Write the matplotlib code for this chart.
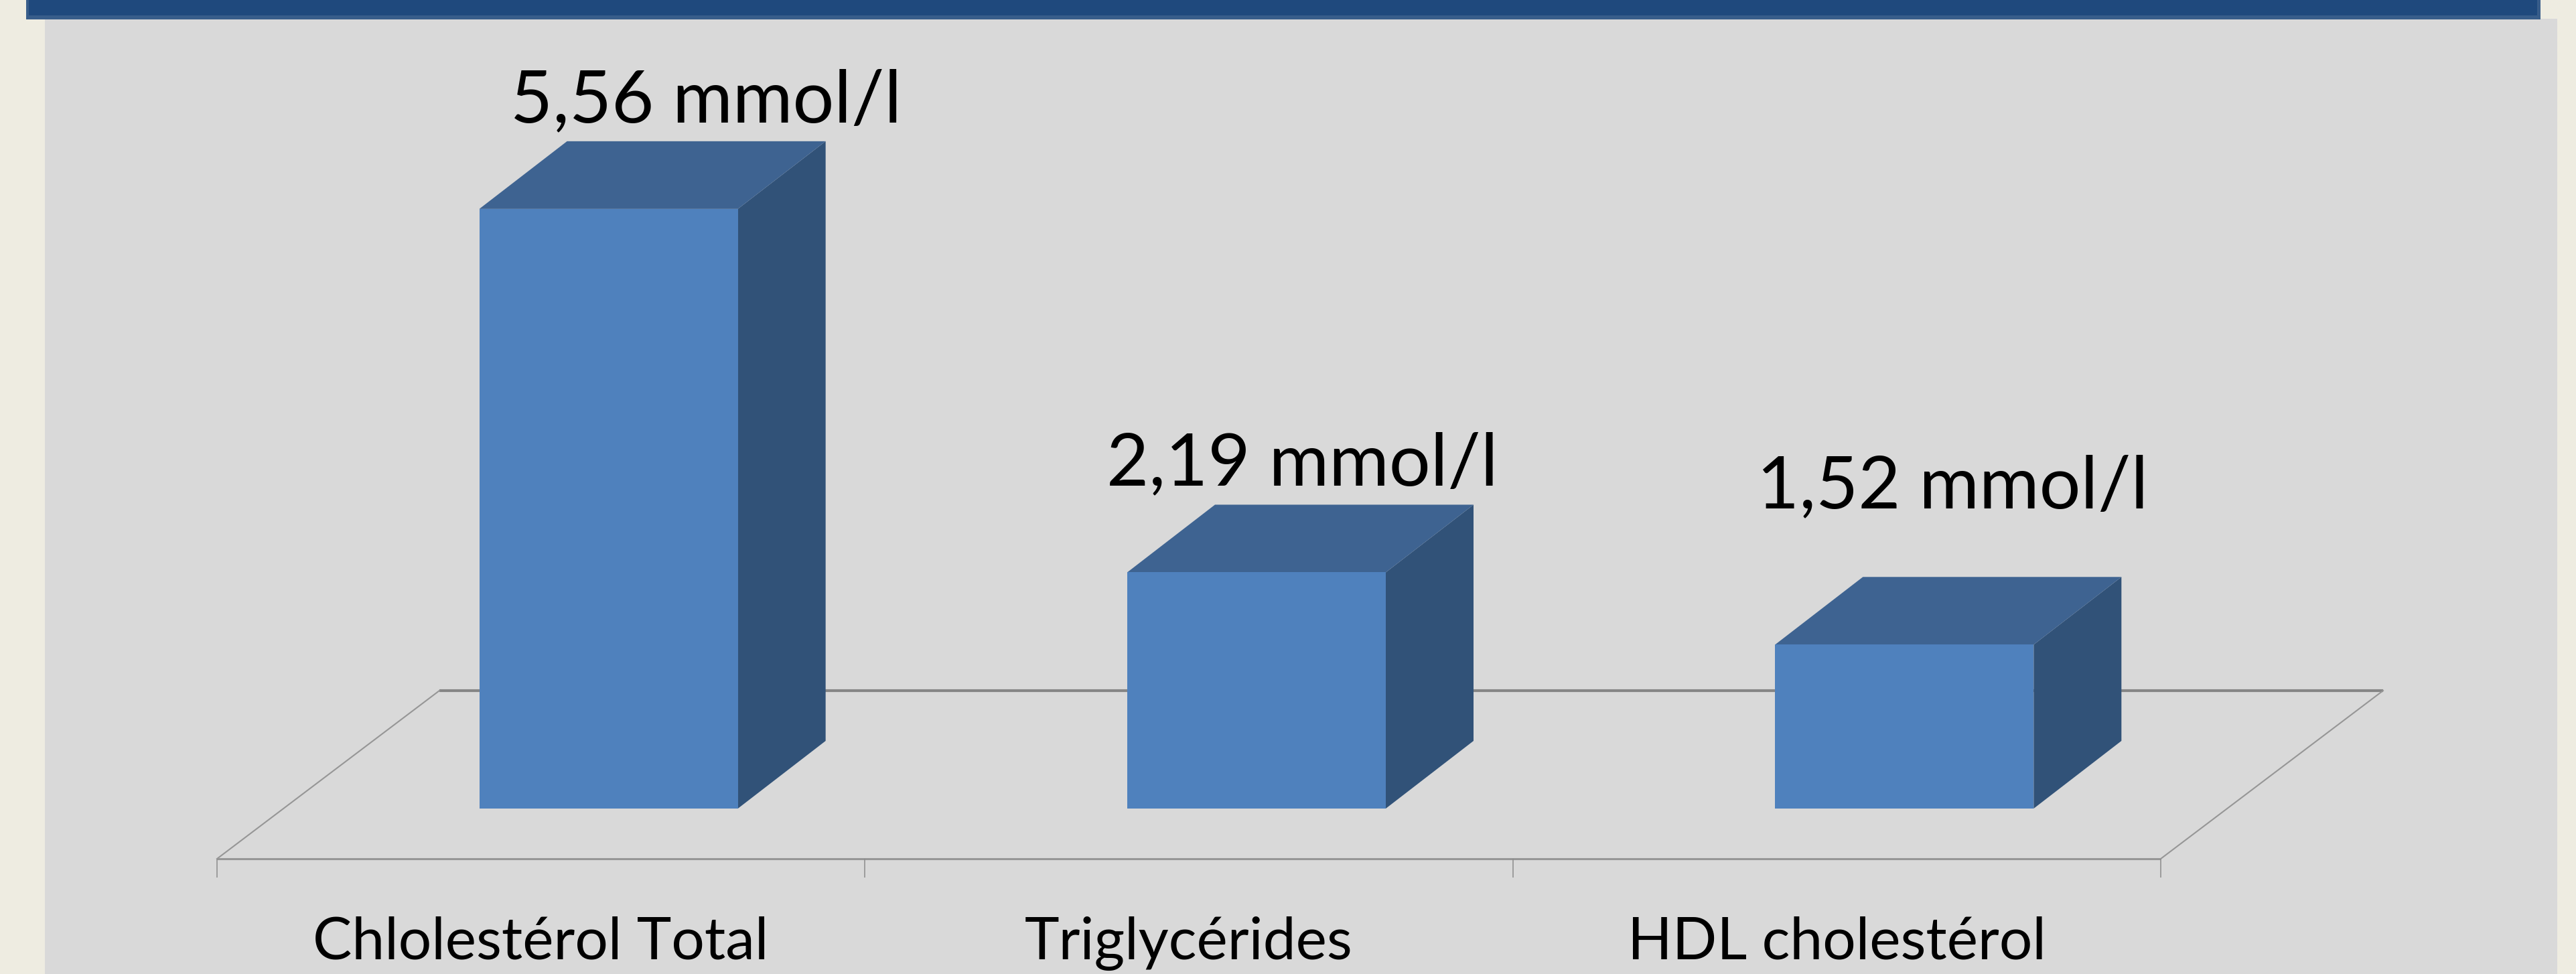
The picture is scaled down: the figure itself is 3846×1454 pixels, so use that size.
import matplotlib
matplotlib.use('Agg')
import matplotlib.pyplot as plt
from matplotlib.patches import Rectangle

categories = ['Chlolestérol Total', 'Triglycérides', 'HDL cholestérol']
values = [5.56, 2.19, 1.52]
value_labels = ['5,56 mmol/l', '2,19 mmol/l', '1,52 mmol/l']

W, H = 3846, 1454
PX_X = 967.33   # pixels for one category
PX_Y = 161.0    # pixels for 1 mmol/l
LEFT = 324      # floor front left corner
BASE = 1207     # bar base

plt.rcParams['font.family'] = ['Lato', 'DejaVu Sans']

fig = plt.figure(figsize=(W / 100, H / 100), dpi=100, facecolor='#EEECE1')


def px_rect(x0, y0, x1, y1, color):
    fig.patches.append(Rectangle((x0 / W, 1 - y1 / H), (x1 - x0) / W, (y1 - y0) / H,
                                 transform=fig.transFigure, facecolor=color,
                                 edgecolor='none', figure=fig, zorder=-1))


# slide background and title band
px_rect(67, 28, 3818, H, '#D9D9D9')
px_rect(39, 0, 3793, 29, '#385D8A')
px_rect(43, 0, 3788, 23, '#1F497D')

ax = fig.add_axes([0, 0, 1, 1])
ax.set_xlim(-LEFT / PX_X, (W - LEFT) / PX_X)
ax.set_ylim((BASE - H) / PX_Y, BASE / PX_Y)
ax.axis('off')

# 3d depth of the bars and the floor
dx = 131 / PX_X
dy = 101 / PX_Y
width = 386 / PX_X
shift = 101 / PX_X
n = len(categories)
floor_front = -75 / PX_Y
floor_back = 176 / PX_Y
floor_dx = 332 / PX_X
tick_bottom = -103 / PX_Y

ax.plot([floor_dx, n + floor_dx], [floor_back, floor_back], color='#868686', lw=3, zorder=1,
        solid_capstyle='butt')
ax.plot([0, n], [floor_front, floor_front], color='#969696', lw=2.2, zorder=1,
        solid_capstyle='butt')
ax.plot([0, floor_dx], [floor_front, floor_back], color='#969696', lw=1.5, zorder=1)
ax.plot([n, n + floor_dx], [floor_front, floor_back], color='#969696', lw=1.5, zorder=1)
ax.vlines(range(n + 1), tick_bottom, floor_front, color='#8C8C8C', lw=1.1, zorder=1)

xs = [i + 0.5 + shift for i in range(n)]
ax.bar(xs, values, width=width, color='#4F81BD', zorder=4)
for x, v in zip(xs, values):
    r = x + width / 2
    l = x - width / 2
    # side face
    ax.fill([r, r + dx, r + dx, r], [0, dy, v + dy, v], color='#315278', lw=0, zorder=3)
    # top face
    ax.fill([l, r, r + dx, l + dx], [v, v, v + dy, v + dy], color='#3E6391', lw=0, zorder=3)

# data labels were moved by hand in the original
label_dx = [145 / PX_X, 68 / PX_X, 72 / PX_X]
label_y = [1025 / PX_Y, 483 / PX_Y, 449 / PX_Y]
for x, y, ldx, t in zip(xs, label_y, label_dx, value_labels):
    ax.text(x + ldx, y, t, fontsize=78.5, color='black', ha='center', va='baseline', zorder=5)

for i, c in enumerate(categories):
    ax.text(i + 0.5, -225 / PX_Y, c, fontsize=63, color='black', ha='center', va='baseline',
            zorder=5)

fig.savefig('out.png', dpi=100)
